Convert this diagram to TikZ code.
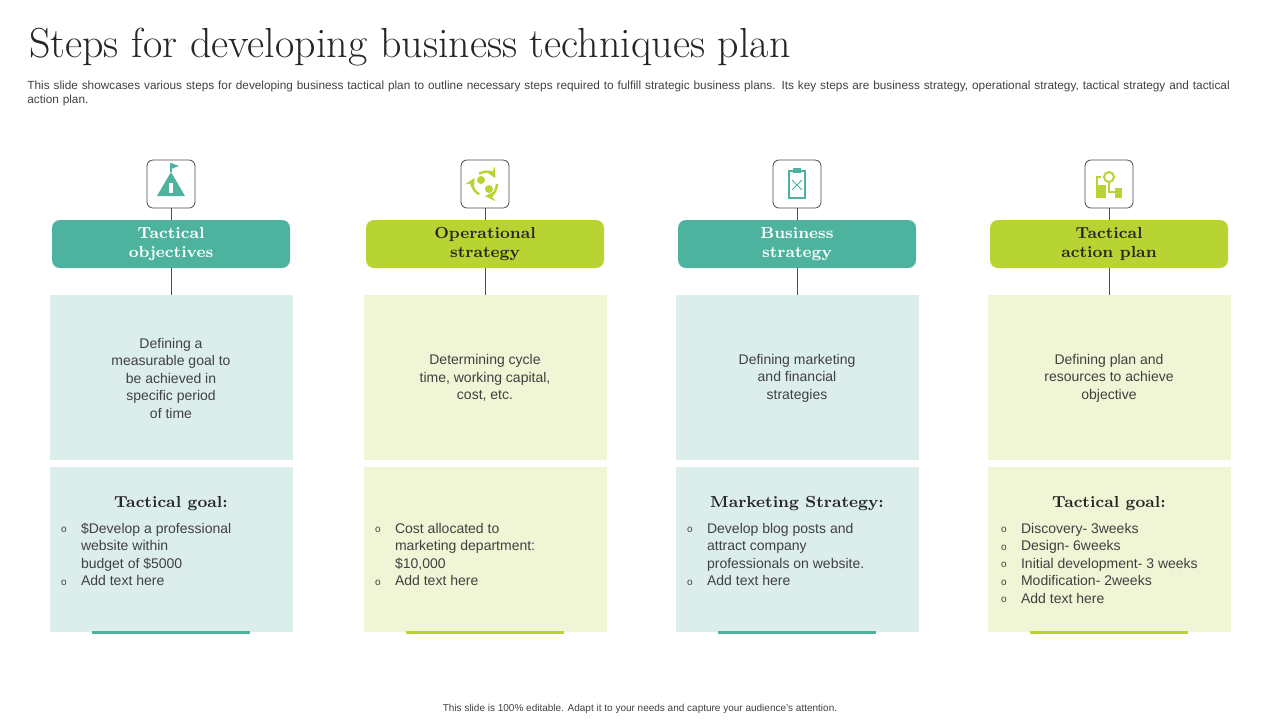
\documentclass[tikz,border=0pt]{standalone}
\usepackage{fontspec}
\setsansfont{Liberation Sans}
\usetikzlibrary{positioning}
\definecolor{tealc}{HTML}{4DB39E}
\definecolor{limec}{HTML}{B8D432}
\definecolor{tealbg}{HTML}{DCEEEC}
\definecolor{limebg}{HTML}{F0F5D5}
\definecolor{txt}{HTML}{404040}
\tikzset{
  iconbox/.style={draw=black!70,rounded corners=3pt,minimum size=24pt,fill=white,line width=0.4pt},
  headbox/.style={rounded corners=4pt,minimum width=119pt,minimum height=24pt,align=center,font=\bfseries\fontsize{8}{9.5}\selectfont},
  panel/.style={minimum width=121.5pt,anchor=north,inner sep=0pt},
  body/.style={font=\sffamily\fontsize{7}{8.75}\selectfont,text=txt,align=center},
  bullets/.style={font=\sffamily\fontsize{7}{8.75}\selectfont,text=txt,align=left,anchor=north west},
  goal/.style={font=\bfseries\fontsize{8}{9}\selectfont,text=black!85},
}
\newcommand{\bul}{\makebox[10pt][l]{\raisebox{0.3pt}{\fontsize{5}{5}\selectfont o}}}
\begin{document}
\begin{tikzpicture}[x=0.5pt,y=-0.5pt]
\useasboundingbox (0,0) rectangle (1280,720);
\node[anchor=west,font=\fontsize{21}{24}\selectfont,text=black!85] (title) at (22,47) {Steps for developing business techniques plan};
\node[anchor=north west,font=\sffamily\fontsize{5.9}{7}\selectfont,text=txt,text width=608pt,inner sep=0pt] (sub) at (27,81)
 {This slide showcases various steps for developing business tactical plan to outline necessary steps required to fulfill strategic business plans. Its key steps are business strategy, operational strategy, tactical strategy and tactical action plan.};
\foreach \i/\cx/\col/\bg/\tc/\head/\desc in {
 1/171/tealc/tealbg/white/{Tactical\\objectives}/{Defining a\\measurable goal to\\be achieved in\\specific period\\of time},
 2/485/limec/limebg/black!85/{Operational\\strategy}/{Determining cycle\\time, working capital,\\cost, etc.},
 3/797/tealc/tealbg/white/{Business\\strategy}/{Defining marketing\\and financial\\strategies},
 4/1109/limec/limebg/black!85/{Tactical\\action plan}/{Defining plan and\\resources to achieve\\objective}}{
  \fill[\bg] (\cx-121.5,295) rectangle (\cx+121.5,460);
  \fill[\bg] (\cx-121.5,467) rectangle (\cx+121.5,632);
  \fill[\col] (\cx-79,631) rectangle (\cx+79,634);
  \node[iconbox] (icon\i) at (\cx,184) {};
  \node[headbox,fill=\col,text=\tc] (head\i) at (\cx,244) {\head};
  \coordinate (top\i) at (\cx,295);
  \node[body] (desc\i) at (\cx,378) {\desc};
  \draw[black!70,line width=0.4pt] (icon\i) -- (head\i);
  \draw[black!70,line width=0.4pt] (head\i) -- (top\i);
}
% icons
\fill[tealc] (157,196) -- (171,172) -- (185,196) -- cycle;
\draw[tealc,line width=0.6pt] (171,172) -- (171,163);
\fill[tealc] (171,163) -- (179,166) -- (171,169) -- cycle;
\fill[white] (169,183) rectangle (173,193);
\foreach \a in {0,120,240}{
  \draw[limec,line width=1.2pt,->,>=stealth] ([shift={(\a:12)}]485,184) arc (\a:\a+90:12);}
\fill[limec] (481,180) circle (4);
\fill[limec] (489,189) circle (4);
\draw[tealc,line width=1pt] (789,171) rectangle (805,198);
\fill[tealc] (793,168) rectangle (801,173);
\draw[tealc,line width=0.5pt] (792,180) -- (802,190) (802,180) -- (792,190);
\draw[limec,line width=1pt] (1109,177) circle (5);
\fill[limec] (1096,185) rectangle (1106,198);
\fill[limec] (1115,188) rectangle (1122,198);
\draw[limec,line width=0.8pt] (1101,177) -- (1097,177) -- (1097,185) (1109,183) -- (1109,192) -- (1115,192);
% lower panels
\node[goal] (goal1) at (171,504) {Tactical goal:};
\node[bullets] (list1) at (54,516) {\bul\$Develop a professional\\\hspace*{10pt}website within\\\hspace*{10pt}budget of \$5000\\\bul Add text here};
\node[bullets] (list2) at (368,516) {\bul Cost allocated to\\\hspace*{10pt}marketing department:\\\hspace*{10pt}\$10,000\\\bul Add text here};
\node[goal] (goal3) at (797,504) {Marketing Strategy:};
\node[bullets] (list3) at (680,516) {\bul Develop blog posts and\\\hspace*{10pt}attract company\\\hspace*{10pt}professionals on website.\\\bul Add text here};
\node[goal] (goal4) at (1109,504) {Tactical goal:};
\node[bullets] (list4) at (994,516) {\bul Discovery- 3weeks\\\bul Design- 6weeks\\\bul Initial development- 3 weeks\\\bul Modification- 2weeks\\\bul Add text here};
\node[font=\sffamily\fontsize{5}{6}\selectfont,text=txt] (foot) at (640,709) {This slide is 100\% editable. Adapt it to your needs and capture your audience's attention.};
\end{tikzpicture}
\end{document}
